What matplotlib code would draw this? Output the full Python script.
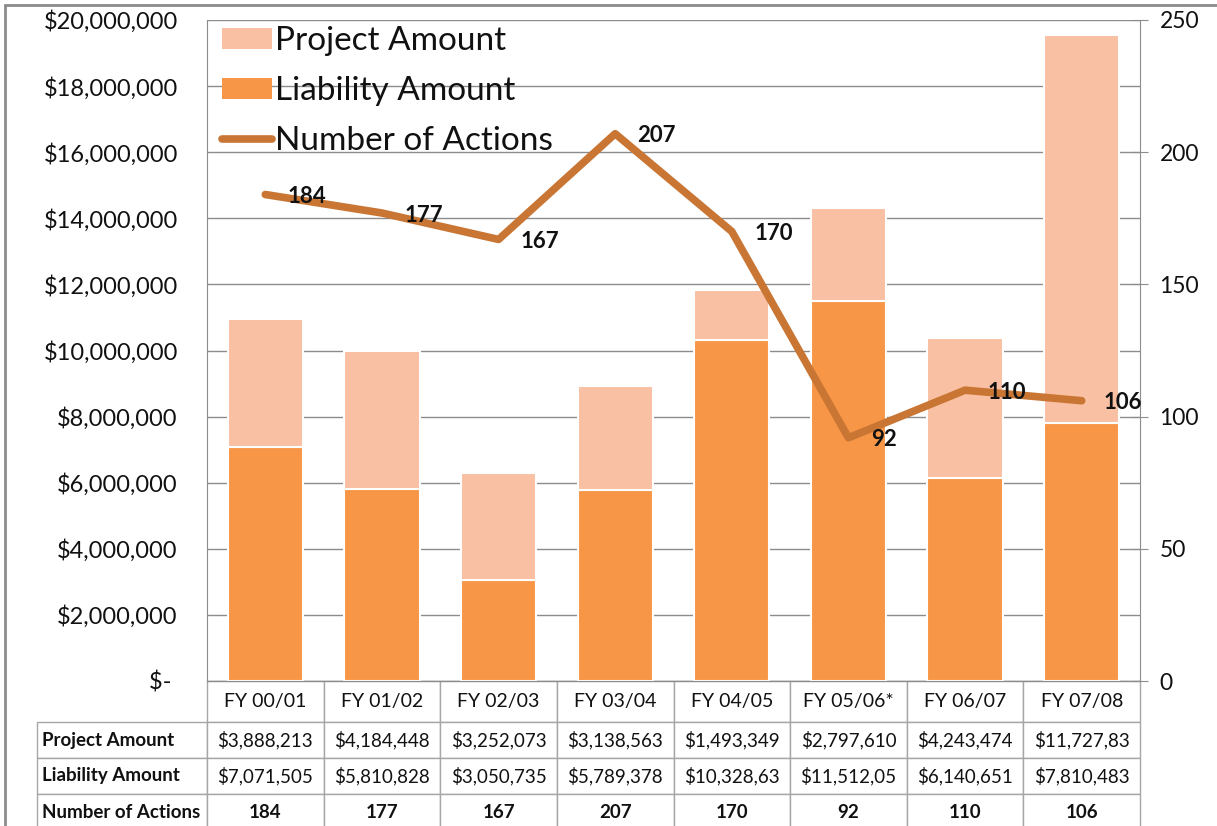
import matplotlib.pyplot as plt
import matplotlib.ticker as mticker
from matplotlib.patches import Patch, Rectangle
from matplotlib.lines import Line2D
import numpy as np

# Datos del gráfico
years = ['FY 00/01', 'FY 01/02', 'FY 02/03', 'FY 03/04',
         'FY 04/05', 'FY 05/06*', 'FY 06/07', 'FY 07/08']
project_amt = [3888213, 4184448, 3252073, 3138563, 1493349, 2797610, 4243474, 11727830]
liability_amt = [7071505, 5810828, 3050735, 5789378, 10328630, 11512050, 6140651, 7810483]
actions = [184, 177, 167, 207, 170, 92, 110, 106]
row_labels = ['Project Amount', 'Liability Amount', 'Number of Actions']

LIGHT = '#F9C0A3'
ORANGE = '#F79646'
LINE = '#C97634'
GRID = '#8c8c8c'
TXT = '#111111'

plt.rcParams['font.family'] = ['Lato', 'DejaVu Sans']

W, H = 1217, 826
fig = plt.figure(figsize=(W / 100, H / 100), dpi=100)
ax = fig.add_axes([207 / W, 1 - 681 / H, (1140 - 207) / W, (681 - 20) / H])

x = np.arange(len(years))
ax.bar(x, liability_amt, width=0.645, color=ORANGE, edgecolor='white', linewidth=1.5, zorder=2)
ax.bar(x, project_amt, bottom=liability_amt, width=0.645, color=LIGHT,
       edgecolor='white', linewidth=1.5, zorder=2)

ax.set_xlim(-0.5, len(years) - 0.5)
ax.set_ylim(0, 20e6)
ax.set_yticks(np.arange(0, 20e6 + 1, 2e6))
ax.yaxis.set_major_formatter(mticker.FuncFormatter(
    lambda v, p: '$- ' if v == 0 else f'${v:,.0f}'))
ax.tick_params(axis='y', length=0, pad=21, labelsize=17, labelcolor=TXT)
ax.set_xticks([])
ax.grid(axis='y', color=GRID, linewidth=1)
ax.set_axisbelow(True)
for s in ['top', 'right']:
    ax.spines[s].set_visible(False)
for s in ['left', 'bottom']:
    ax.spines[s].set_color(GRID)

# eje secundario: número de acciones
ax2 = ax.twinx()
ax2.plot(x, actions, color=LINE, linewidth=5.5, solid_capstyle='round', zorder=3)
for i, v in enumerate(actions):
    ax2.annotate(str(v), (i, v), xytext=(16, -1.5), textcoords='offset points',
                 ha='left', va='center', fontsize=16, fontweight='bold', color=TXT)
ax2.set_ylim(0, 250)
ax2.set_yticks(np.arange(0, 251, 50))
ax2.tick_params(axis='y', direction='inout', length=12, color=GRID, pad=8,
                labelsize=16.5, labelcolor=TXT)
for s in ['top', 'left', 'bottom']:
    ax2.spines[s].set_visible(False)
ax2.spines['right'].set_color(GRID)

handles = [Patch(facecolor=LIGHT), Patch(facecolor=ORANGE),
           Line2D([], [], color=LINE, linewidth=5.5, solid_capstyle='round')]
ax2.legend(handles, ['Project Amount', 'Liability Amount', 'Number of Actions'],
           loc='upper left', bbox_to_anchor=(15 / 933, 1 - 6 / 661), frameon=False,
           fontsize=24, handlelength=1.5, handleheight=0.6, handletextpad=0.08,
           labelspacing=0.6, borderpad=0, borderaxespad=0, labelcolor=TXT)

# tabla de datos bajo el gráfico (bbox = sólo la rejilla de datos)
cell_text = [[f'${v:,}'[:10] for v in project_amt],
             [f'${v:,}'[:10] for v in liability_amt],
             [str(v) for v in actions]]
tbl = ax.table(cellText=cell_text, colLabels=years,
               cellLoc='center', colWidths=[1 / len(years)] * len(years),
               bbox=[0, -149 / 661, 1, 149 / 661])
for r, lab in enumerate(row_labels, start=1):
    tbl.add_cell(r, -1, width=170 / 933, height=36, text=lab, loc='left')
tbl.auto_set_font_size(False)
tbl.set_fontsize(13.5)
for (r, c), cell in tbl.get_celld().items():
    cell.set_edgecolor('#a6a6a6')
    cell.set_linewidth(1)
    cell.set_height(41 if r == 0 else 36)
    cell.get_text().set_color(TXT)
    if r == 0:
        cell.get_text().set_fontsize(14)
    if c == -1:
        cell.PAD = 0.03
        cell.get_text().set_fontweight('bold')
    if r == 3:
        cell.get_text().set_fontweight('bold')

# borde exterior
fig.patches.append(Rectangle((5 / W, -0.1), 1.2, 1 - 5 / H + 0.1, transform=fig.transFigure,
                             fill=False, edgecolor=GRID, linewidth=2))

fig.savefig('out.png', dpi=100)
